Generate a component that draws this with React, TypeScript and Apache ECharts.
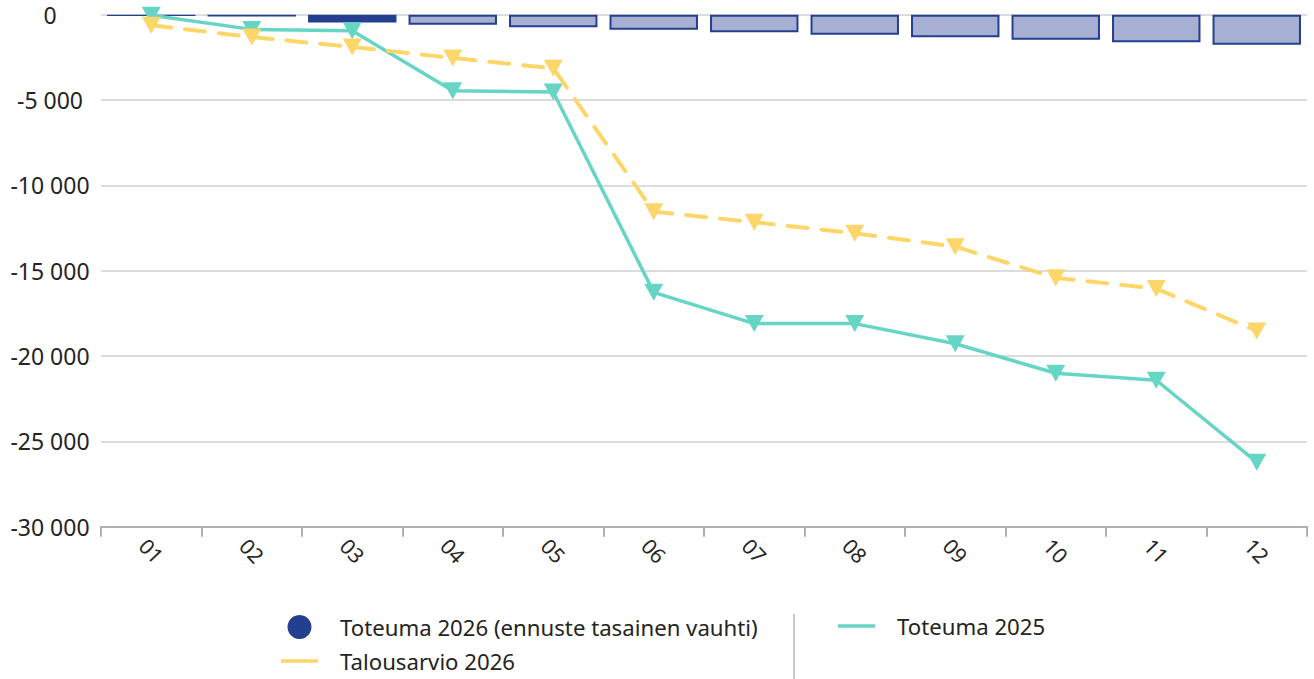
import React, { useEffect, useRef } from "react";
import * as echarts from "echarts";

const months = ["01", "02", "03", "04", "05", "06", "07", "08", "09", "10", "11", "12"];
const toteuma2026 = [-80, -100, -450, -590, -735, -880, -1030, -1175, -1320, -1470, -1615, -1760];
const actualCount = 3; // first months are actuals, rest forecast
const talousarvio2026 = [-620, -1310, -1890, -2540, -3140, -11540, -12160, -12810, -13590, -15420, -16050, -18530];
const toteuma2025 = [-30, -860, -940, -4450, -4530, -16270, -18100, -18100, -19280, -21010, -21420, -26220];

const NAME_BAR = "Toteuma 2026 (ennuste tasainen vauhti)";
const NAME_BUDGET = "Talousarvio 2026";
const NAME_PREV = "Toteuma 2025";

const NAVY = "#243f8f";
const LIGHT = "#a7b0d2";
const TEAL = "#67d5c6";
const YELLOW = "#fdd66a";
const FONT = "Noto Sans";
const LINE_ICON = "path://M0,0 L40,0 L40,4 L0,4 Z";

const fmt = (v: number) => String(v).replace(/\B(?=(\d{3})+(?!\d))/g, " ");

export default function App() {
  const ref = useRef<HTMLDivElement>(null);
  useEffect(() => {
    if (!ref.current) return;
    const chart = echarts.init(ref.current, null, { renderer: "svg" });
    chart.setOption({
      animation: false,
      textStyle: { fontFamily: FONT },
      grid: { left: 101, right: 7, top: 14.7, bottom: 152.3, containLabel: false },
      xAxis: {
        type: "category",
        data: months,
        boundaryGap: true,
        axisLine: { onZero: false, lineStyle: { color: "#adb0b5", width: 2 } },
        axisTick: { show: true, length: 10, lineStyle: { color: "#adb0b5", width: 2 } },
        axisLabel: {
          rotate: -47,
          align: "center",
          verticalAlign: "middle",
          margin: 24,
          fontSize: 21,
          color: "#252423",
          fontFamily: FONT,
        },
      },
      yAxis: {
        type: "value",
        min: -30000,
        max: 0,
        interval: 5000,
        axisLine: { show: false },
        axisTick: { show: false },
        splitLine: { lineStyle: { color: "#dcdcdc", width: 2 } },
        axisLabel: {
          formatter: (v: number) => fmt(v),
          align: "center",
          margin: 51,
          fontSize: 23,
          color: "#252423",
          fontFamily: FONT,
        },
      },
      legend: [
        {
          orient: "vertical",
          left: 281,
          top: 615,
          padding: 0,
          itemWidth: 37,
          itemHeight: 24,
          itemGap: 11,
          symbolKeepAspect: true,
          itemStyle: { borderWidth: 0 },
          textStyle: { fontSize: 22.2, color: "#252423", fontFamily: FONT, padding: [0, 0, 0, 17] },
          data: [
            { name: NAME_BAR, icon: "circle" },
            { name: NAME_BUDGET, icon: LINE_ICON },
          ],
        },
        {
          orient: "vertical",
          left: 838,
          top: 615,
          padding: 0,
          itemWidth: 37,
          itemHeight: 24,
          itemGap: 11,
          symbolKeepAspect: true,
          itemStyle: { borderWidth: 0 },
          textStyle: { fontSize: 22.2, color: "#252423", fontFamily: FONT, padding: [0, 0, 0, 17] },
          data: [{ name: NAME_PREV, icon: LINE_ICON }],
        },
      ],
      graphic: [
        {
          type: "line",
          shape: { x1: 794, y1: 614, x2: 794, y2: 679 },
          style: { stroke: "#c8c8c8", lineWidth: 2 },
          silent: true,
        },
      ],
      series: [
        {
          name: NAME_BAR,
          type: "bar",
          barCategoryGap: "12%",
          itemStyle: { color: NAVY },
          data: toteuma2026.map((v, i) =>
            i < actualCount
              ? { value: v, itemStyle: { color: NAVY, borderWidth: 0 } }
              : { value: v, itemStyle: { color: LIGHT, borderColor: NAVY, borderWidth: 2 } }
          ),
          z: 2,
        },
        {
          name: NAME_PREV,
          type: "line",
          data: toteuma2025,
          color: TEAL,
          lineStyle: { color: TEAL, width: 3.5 },
          itemStyle: { color: TEAL, borderWidth: 0 },
          symbol: "triangle",
          symbolRotate: 180,
          symbolSize: [19, 17],
          showAllSymbol: true,
          z: 3,
        },
        {
          name: NAME_BUDGET,
          type: "line",
          data: talousarvio2026,
          color: YELLOW,
          lineStyle: { color: YELLOW, width: 4, type: [20, 14], cap: "round" },
          itemStyle: { color: YELLOW, borderWidth: 0 },
          symbol: "triangle",
          symbolRotate: 180,
          symbolSize: [19, 17],
          showAllSymbol: true,
          z: 4,
        },
      ],
    });
    return () => chart.dispose();
  }, []);
  return (
    <div
      ref={ref}
      style={{ position: "fixed", left: 0, top: 0, width: 1314, height: 679, background: "#fff" }}
    />
  );
}
